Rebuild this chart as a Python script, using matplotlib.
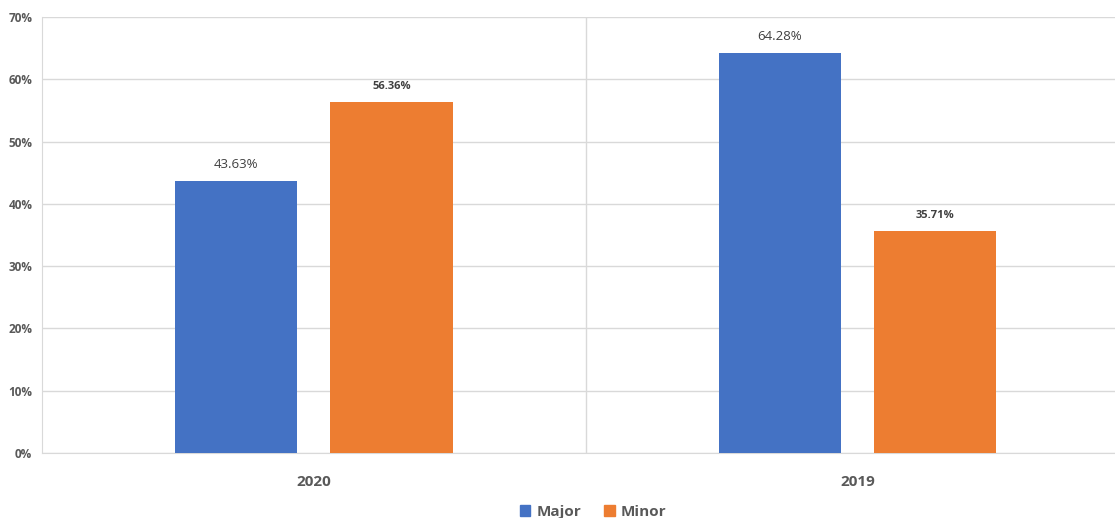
import numpy as np
import matplotlib.pyplot as plt
from matplotlib.patches import Patch


years = ['2020', '2019']
major = [43.63, 64.28]
minor = [56.36, 35.71]
yticks = [0, 10, 20, 30, 40, 50, 60, 70]

BLUE = '#4472C4'
ORANGE = '#ED7D31'
GRAY = '#595959'
GRID = '#D9D9D9'

plt.rcParams['font.family'] = ['Open Sans', 'DejaVu Sans']

fig = plt.figure(figsize=(11.15, 5.18), dpi=100)
# right edge of the plot runs a little past the figure, as in the source
ax = fig.add_axes([0.0377, 0.1255, 0.975, 0.8415])

x = np.arange(len(years))
w = 0.225
off = 0.1427

b1 = ax.bar(x - off, major, w, color=BLUE, zorder=3)
b2 = ax.bar(x + off, minor, w, color=ORANGE, zorder=3)

for rect, v in zip(b1, major):
    ax.text(rect.get_x() + rect.get_width() / 2, v + 1.6, f'{v:.2f}%',
            ha='center', va='bottom', fontsize=9.5, color='#404040')
for rect, v in zip(b2, minor):
    ax.text(rect.get_x() + rect.get_width() / 2, v + 1.6, f'{v:.2f}%',
            ha='center', va='bottom', fontsize=8, fontweight='bold', color='#404040')

ax.set_xlim(-0.5, 1.5)
ax.set_ylim(0, 70)
ax.set_yticks(yticks)
ax.set_yticklabels([f'{t}%' for t in yticks], fontsize=8.5, fontweight='bold', color=GRAY)
ax.set_xticks(x)
ax.set_xticklabels(years, fontsize=11, fontweight='bold', color=GRAY)
ax.tick_params(axis='both', length=0)
ax.tick_params(axis='x', pad=16)
ax.tick_params(axis='y', pad=7)

ax.yaxis.grid(True, color=GRID, linewidth=1, zorder=0)
ax.axvline(0.5, color=GRID, linewidth=1, zorder=0)

for side in ['top', 'right']:
    ax.spines[side].set_visible(False)
ax.spines['left'].set_color(GRID)
ax.spines['bottom'].set_color(GRID)

handles = [Patch(color=BLUE, label='Major'), Patch(color=ORANGE, label='Minor')]
fig.legend(handles=handles, loc='center', bbox_to_anchor=(0.532, 0.012),
           ncol=2, frameon=False, handlelength=0.7, handleheight=0.7,
           columnspacing=1.5, handletextpad=0.4,
           prop={'size': 11, 'weight': 'bold'}, labelcolor=GRAY)

fig.savefig('out.png', dpi=100)
